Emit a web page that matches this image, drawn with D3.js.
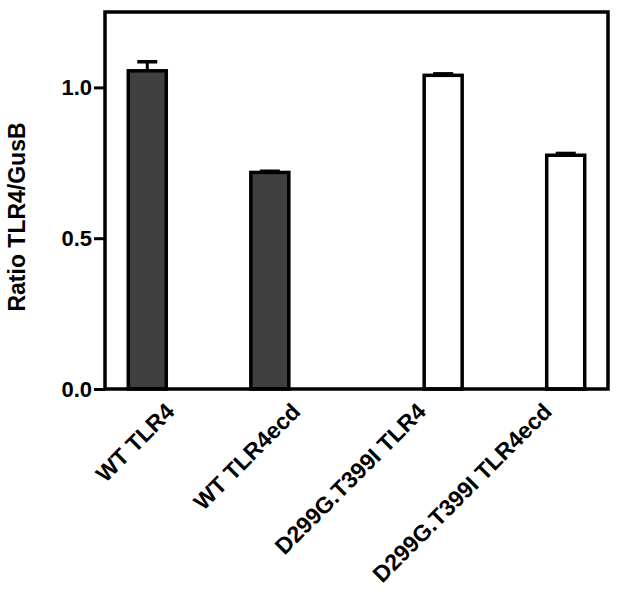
<!DOCTYPE html>
<html>
<head>
<meta charset="utf-8">
<script src="https://cdn.jsdelivr.net/npm/d3@7"></script>
<style>
  body { margin: 0; background: #fff; }
  text { font-family: "Liberation Sans", Arial, sans-serif; font-weight: bold; fill: #000; }
</style>
</head>
<body>
<div id="chart"></div>
<script>
// data
var groups = ["WT", "D299G.T399I"];
var constructs = ["TLR4", "TLR4ecd"];
var labels = ["WT TLR4", "WT TLR4ecd", "D299G.T399I TLR4", "D299G.T399I TLR4ecd"];
var means = [1.055, 0.718, 1.04, 0.775];
var errors = [0.03, 0.004, 0.005, 0.006];
var fills = ["#404040", "#404040", "#ffffff", "#ffffff"];
var yTicks = [0.0, 0.5, 1.0];

var svgWidth = 618;
var svgHeight = 593;

var chartMargin = { top: 12, right: 10, bottom: 204, left: 105 };

var chartWidth = svgWidth - chartMargin.left - chartMargin.right;
var chartHeight = svgHeight - chartMargin.top - chartMargin.bottom;

var svg = d3.select("#chart")
  .append("svg")
  .attr("width", svgWidth)
  .attr("height", svgHeight);

var chartGroup = svg.append("g")
  .attr("transform", `translate(${chartMargin.left}, ${chartMargin.top})`);

// build rows
var rows = labels.map(function(l, i) {
  return {
    label: l,
    group: groups[Math.floor(i / 2)],
    construct: constructs[i % 2],
    mean: means[i],
    err: errors[i],
    fill: fills[i]
  };
});

// outer band for genotype, inner band for construct
var xGroup = d3.scaleBand()
  .domain(groups)
  .range([0, chartWidth])
  .paddingInner(0.3)
  .paddingOuter(0);

var xInner = d3.scaleBand()
  .domain(constructs)
  .range([0, xGroup.bandwidth()])
  .paddingInner(0.69)
  .paddingOuter(0.19);

// category labels sit evenly across the axis (not under the grouped bars)
var xLabel = d3.scaleBand()
  .domain(labels)
  .range([0, chartWidth]);

var yLinearScale = d3.scaleLinear()
  .domain([0, 1.25])
  .range([chartHeight, 0]);

function xCenter(d) {
  return xGroup(d.group) + xInner(d.construct) + xInner.bandwidth() / 2;
}

// bars
chartGroup.selectAll(".bar")
  .data(rows)
  .enter()
  .append("rect")
  .attr("class", "bar")
  .attr("x", d => xGroup(d.group) + xInner(d.construct))
  .attr("y", d => yLinearScale(d.mean))
  .attr("width", xInner.bandwidth())
  .attr("height", d => chartHeight - yLinearScale(d.mean))
  .attr("fill", d => d.fill)
  .attr("stroke", "#000")
  .attr("stroke-width", 3.5);

// error bars (upper only)
var capHalf = 10;
var err = chartGroup.selectAll(".err")
  .data(rows)
  .enter()
  .append("g")
  .attr("class", "err");

err.append("line")
  .attr("x1", xCenter)
  .attr("x2", xCenter)
  .attr("y1", d => yLinearScale(d.mean))
  .attr("y2", d => yLinearScale(d.mean + d.err))
  .attr("stroke", "#000")
  .attr("stroke-width", 3);

err.append("line")
  .attr("x1", d => xCenter(d) - capHalf)
  .attr("x2", d => xCenter(d) + capHalf)
  .attr("y1", d => yLinearScale(d.mean + d.err))
  .attr("y2", d => yLinearScale(d.mean + d.err))
  .attr("stroke", "#000")
  .attr("stroke-width", 3.5);

// frame
chartGroup.append("rect")
  .attr("x", 0)
  .attr("y", 0)
  .attr("width", chartWidth)
  .attr("height", chartHeight)
  .attr("fill", "none")
  .attr("stroke", "#000")
  .attr("stroke-width", 3.5);

// y axis
var leftAxis = d3.axisLeft(yLinearScale)
  .tickValues(yTicks)
  .tickFormat(d3.format(".1f"))
  .tickSizeInner(11)
  .tickSizeOuter(0)
  .tickPadding(2);

var yAxisG = chartGroup.append("g").call(leftAxis);
yAxisG.select(".domain").remove();
yAxisG.selectAll(".tick line").attr("stroke", "#000").attr("stroke-width", 3);
yAxisG.selectAll(".tick text")
  .attr("font-size", 22)
  .attr("font-family", "Liberation Sans, Arial, sans-serif")
  .attr("font-weight", "bold")
  .attr("fill", "#000");

// x labels, rotated
chartGroup.selectAll(".xlabel")
  .data(rows)
  .enter()
  .append("text")
  .attr("class", "xlabel")
  .attr("text-anchor", "end")
  .attr("font-size", 23)
  .attr("transform", d => `translate(${xLabel(d.label) + xLabel.bandwidth() / 2 + 8}, ${chartHeight + 24}) rotate(-45)`)
  .text(d => d.label);

// y title
svg.append("text")
  .attr("text-anchor", "middle")
  .attr("font-size", 23)
  .attr("transform", "translate(25, 217) rotate(-90)")
  .text("Ratio TLR4/GusB");
</script>
</body>
</html>
